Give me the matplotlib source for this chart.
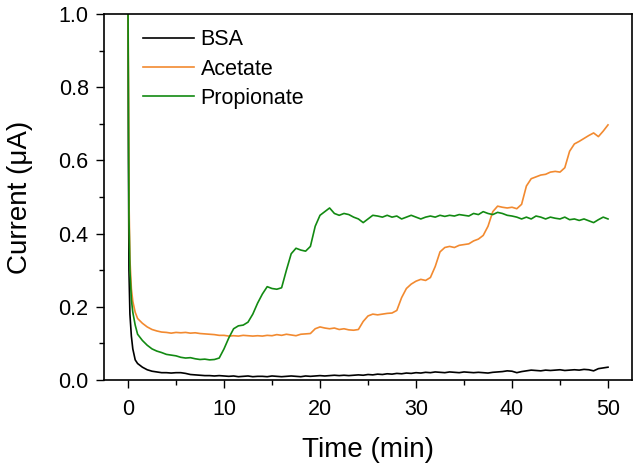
import matplotlib
matplotlib.use("Agg")
import matplotlib.pyplot as plt
from matplotlib.ticker import MultipleLocator, FormatStrFormatter

plt.rcParams['font.family'] = ['Liberation Sans', 'DejaVu Sans']

# time (min)
time = [0, 0.05, 0.1, 0.2, 0.35, 0.5, 0.75,
        1.0, 1.5, 2.0, 2.5, 3.0, 3.5, 4.0, 4.5, 5.0, 5.5, 6.0, 6.5, 7.0, 7.5, 8.0, 8.5, 9.0, 9.5,
        10.0, 10.5, 11.0, 11.5, 12.0, 12.5, 13.0, 13.5, 14.0, 14.5, 15.0, 15.5, 16.0, 16.5, 17.0, 17.5,
        18.0, 18.5, 19.0, 19.5, 20.0, 20.5, 21.0, 21.5, 22.0, 22.5, 23.0, 23.5, 24.0, 24.5, 25.0, 25.5,
        26.0, 26.5, 27.0, 27.5, 28.0, 28.5, 29.0, 29.5, 30.0, 30.5, 31.0, 31.5, 32.0, 32.5, 33.0, 33.5,
        34.0, 34.5, 35.0, 35.5, 36.0, 36.5, 37.0, 37.5, 38.0, 38.5, 39.0, 39.5, 40.0, 40.5, 41.0, 41.5,
        42.0, 42.5, 43.0, 43.5, 44.0, 44.5, 45.0, 45.5, 46.0, 46.5, 47.0, 47.5, 48.0, 48.5, 49.0, 49.5, 50.0]

bsa = [1.05, 0.60, 0.30, 0.18, 0.12, 0.085, 0.055,
       0.045, 0.035, 0.028, 0.024, 0.022, 0.020, 0.020, 0.019, 0.020, 0.020, 0.018, 0.015, 0.014, 0.013, 0.012, 0.012, 0.011, 0.012,
       0.011, 0.010, 0.011, 0.009, 0.010, 0.011, 0.009, 0.010, 0.010, 0.009, 0.011, 0.010, 0.009, 0.010, 0.011, 0.010,
       0.009, 0.011, 0.010, 0.011, 0.012, 0.011, 0.012, 0.013, 0.012, 0.013, 0.012, 0.013, 0.014, 0.013, 0.015, 0.014,
       0.016, 0.015, 0.017, 0.016, 0.018, 0.017, 0.019, 0.018, 0.020, 0.019, 0.021, 0.020, 0.022, 0.021, 0.020, 0.022,
       0.021, 0.020, 0.022, 0.021, 0.020, 0.021, 0.020, 0.019, 0.021, 0.022, 0.023, 0.025, 0.024, 0.020, 0.023, 0.025,
       0.027, 0.026, 0.025, 0.027, 0.026, 0.027, 0.028, 0.026, 0.027, 0.028, 0.027, 0.029, 0.028, 0.025, 0.031, 0.033, 0.035]

acetate = [1.05, 0.80, 0.50, 0.33, 0.25, 0.215, 0.185,
           0.168, 0.155, 0.145, 0.138, 0.134, 0.131, 0.130, 0.128, 0.130, 0.129, 0.130, 0.128, 0.129, 0.127, 0.126, 0.125, 0.124, 0.122,
           0.122, 0.120, 0.121, 0.120, 0.122, 0.121, 0.120, 0.121, 0.120, 0.122, 0.121, 0.124, 0.122, 0.125, 0.123, 0.121,
           0.125, 0.126, 0.127, 0.140, 0.145, 0.142, 0.140, 0.142, 0.138, 0.140, 0.137, 0.136, 0.138, 0.160, 0.175, 0.180,
           0.178, 0.180, 0.182, 0.183, 0.190, 0.225, 0.250, 0.262, 0.270, 0.275, 0.272, 0.280, 0.310, 0.350, 0.362, 0.365,
           0.362, 0.368, 0.370, 0.372, 0.380, 0.385, 0.395, 0.420, 0.460, 0.475, 0.472, 0.470, 0.472, 0.468, 0.480, 0.530,
           0.550, 0.555, 0.560, 0.562, 0.568, 0.570, 0.568, 0.580, 0.625, 0.645, 0.652, 0.660, 0.668, 0.675, 0.665, 0.680, 0.697]

propionate = [1.05, 0.70, 0.45, 0.30, 0.22, 0.185, 0.150,
              0.125, 0.108, 0.095, 0.085, 0.079, 0.075, 0.070, 0.068, 0.066, 0.062, 0.060, 0.061, 0.058, 0.056, 0.057, 0.055, 0.056, 0.060,
              0.085, 0.115, 0.140, 0.148, 0.150, 0.158, 0.180, 0.210, 0.235, 0.255, 0.250, 0.248, 0.252, 0.300, 0.345, 0.360,
              0.355, 0.352, 0.365, 0.420, 0.450, 0.460, 0.470, 0.455, 0.450, 0.455, 0.452, 0.445, 0.440, 0.430, 0.440, 0.450,
              0.448, 0.445, 0.450, 0.445, 0.448, 0.440, 0.445, 0.450, 0.445, 0.440, 0.445, 0.448, 0.445, 0.450, 0.447, 0.450,
              0.448, 0.452, 0.450, 0.448, 0.455, 0.452, 0.460, 0.455, 0.452, 0.458, 0.455, 0.450, 0.448, 0.445, 0.440, 0.445,
              0.440, 0.448, 0.445, 0.440, 0.445, 0.442, 0.440, 0.445, 0.438, 0.440, 0.436, 0.440, 0.435, 0.430, 0.438, 0.445, 0.440]

labels = ['BSA', 'Acetate', 'Propionate']
colors = ['#000000', '#F28A30', '#128A12']

fig = plt.figure(figsize=(6.38, 4.68), dpi=100)
ax = fig.add_axes([104/638, 88/468, 528/638, 366/468])

for series, lab, col in zip([bsa, acetate, propionate], labels, colors):
    ax.plot(time, series, color=col, lw=1.2, label=lab)

ax.set_xlim(-2.5, 52.5)
ax.set_ylim(0, 1.0)
ax.xaxis.set_major_locator(MultipleLocator(10))
ax.xaxis.set_minor_locator(MultipleLocator(5))
ax.yaxis.set_major_locator(MultipleLocator(0.2))
ax.yaxis.set_minor_locator(MultipleLocator(0.1))
ax.yaxis.set_major_formatter(FormatStrFormatter('%.1f'))
ax.tick_params(which='major', direction='out', length=6, width=1.0, labelsize=15.5)
ax.tick_params(axis='x', which='major', pad=8)
ax.tick_params(axis='y', which='major', pad=5)
ax.tick_params(which='minor', direction='out', length=3.5, width=1.0)
for s in ax.spines.values():
    s.set_linewidth(1.2)

ax.set_xlabel('Time (min)', fontsize=20, labelpad=12)
ax.set_ylabel('Current (μA)', fontsize=20)
ax.yaxis.set_label_coords(-0.135, 0.5)

ax.legend(loc='upper left', bbox_to_anchor=(0.073, 0.958), frameon=False, fontsize=15.5,
          handlelength=2.4, handletextpad=0.3, labelspacing=0.38, borderpad=0, borderaxespad=0)

fig.savefig('out.png', dpi=100)
